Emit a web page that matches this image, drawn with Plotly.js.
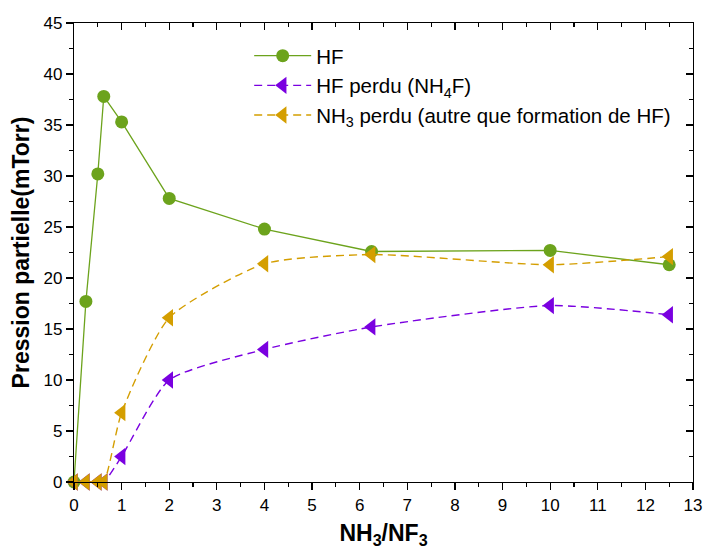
<!DOCTYPE html>
<html>
<head>
<meta charset="utf-8">
<script src="https://cdn.plot.ly/plotly-3.0.1.min.js"></script>
<style>html,body{margin:0;padding:0;background:#fff;}#chart{width:704px;height:550px;}</style>
</head>
<body>
<div id="chart"></div>
<script>
const ratio = [0, 0.25, 0.5, 0.625, 1, 2, 4, 6.25, 10, 12.5];
const hf = [0, 17.7, 30.2, 37.8, 35.3, 27.8, 24.8, 22.6, 22.7, 21.3];
const hfPerdu = [0, 0, 0, 0, 2.5, 10.0, 13.0, 15.2, 17.3, 16.4];
const nh3Perdu = [0, 0, 0, 0, 6.8, 16.1, 21.4, 22.3, 21.3, 22.1];
const seriesNames = ['HF', 'HF perdu (NH<sub>4</sub>F)', 'NH<sub>3</sub> perdu (autre que formation de HF)'];

const green = '#6ca31c', purple = '#7a00e0', orange = '#d49e00';
const traces = [
  {x: ratio, y: hf, name: seriesNames[0], mode: 'lines+markers', cliponaxis: false,
   line: {color: green, width: 1.3}, marker: {symbol: 'circle', size: 13, color: green}},
  {x: ratio, y: hfPerdu, name: seriesNames[1], mode: 'lines+markers', cliponaxis: false,
   line: {color: purple, width: 1.4, dash: '8px,5px', shape: 'spline', smoothing: 0.6}, marker: {symbol: 'triangle-left', size: 15, color: purple}},
  {x: ratio, y: nh3Perdu, name: seriesNames[2], mode: 'lines+markers', cliponaxis: false,
   line: {color: orange, width: 1.4, dash: '8px,5px', shape: 'spline', smoothing: 0.6}, marker: {symbol: 'triangle-left', size: 15, color: orange}},
  {x: [0], y: [0], xaxis: 'x2', yaxis: 'y2', mode: 'markers', marker: {opacity: 0}, showlegend: false, hoverinfo: 'skip'}
];

const font = 'Liberation Sans, Arial, sans-serif';
const layout = {
  width: 704, height: 550,
  margin: {l: 73.5, r: 11, t: 22.5, b: 68},
  paper_bgcolor: '#fff', plot_bgcolor: '#fff',
  font: {family: font, size: 17, color: '#000'},
  showlegend: true,
  legend: {x: 0.283, y: 0.972, xanchor: 'left', yanchor: 'top', bgcolor: 'rgba(0,0,0,0)',
           font: {family: font, size: 20.5, color: '#000'}, tracegroupgap: 0, itemwidth: 57},
  xaxis: {range: [0, 13], dtick: 1, tick0: 0, showgrid: false, zeroline: false,
          showline: true, linecolor: '#000', linewidth: 1.2, ticks: 'outside', ticklen: 7, tickwidth: 1.2, tickcolor: '#000',
          minor: {dtick: 0.5, ticks: 'outside', ticklen: 4, tickwidth: 1.2, tickcolor: '#000', showgrid: false},
          tickfont: {size: 17},
          title: {text: '<b>NH<sub>3</sub>/NF<sub>3</sub></b>', font: {size: 23}, standoff: 11}},
  yaxis: {range: [0, 45], dtick: 5, tick0: 0, showgrid: false, zeroline: false,
          showline: true, linecolor: '#000', linewidth: 1.2, ticks: 'outside', ticklen: 7, tickwidth: 1.2, tickcolor: '#000',
          minor: {dtick: 2.5, ticks: 'outside', ticklen: 4, tickwidth: 1.2, tickcolor: '#000', showgrid: false},
          tickfont: {size: 17},
          title: {text: '<b>Pression partielle(mTorr)</b>', font: {size: 23}, standoff: 7}},
  xaxis2: {overlaying: 'x', side: 'top', range: [0, 13], dtick: 1, showgrid: false, zeroline: false,
           showline: true, linecolor: '#000', linewidth: 1.2, ticks: 'inside', ticklen: 7, tickwidth: 1.2, tickcolor: '#000',
           minor: {dtick: 0.5, ticks: 'inside', ticklen: 4, tickwidth: 1.2, tickcolor: '#000'},
           showticklabels: false},
  yaxis2: {overlaying: 'y', side: 'right', range: [0, 45], dtick: 5, showgrid: false, zeroline: false,
           showline: true, linecolor: '#000', linewidth: 1.2, ticks: 'inside', ticklen: 7, tickwidth: 1.2, tickcolor: '#000',
           minor: {dtick: 2.5, ticks: 'inside', ticklen: 4, tickwidth: 1.2, tickcolor: '#000'},
           showticklabels: false}
};
Plotly.newPlot('chart', traces, layout, {displayModeBar: false, staticPlot: true});
</script>
</body>
</html>
